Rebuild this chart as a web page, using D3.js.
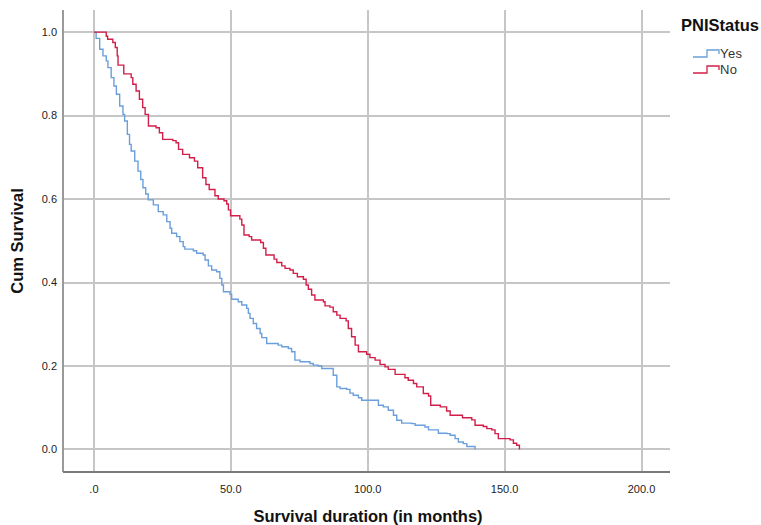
<!DOCTYPE html>
<html>
<head>
<meta charset="utf-8">
<title>Survival functions by PNIStatus</title>
<script src="https://cdn.jsdelivr.net/npm/d3@7"></script>
<style>
body { margin: 0; background: #fff; font-family: "Liberation Sans", Arial, sans-serif; }
.tick-label { font-size: 11px; fill: #222; }
.axis-title { font-size: 16.5px; font-weight: bold; fill: #111; }
.grid line { stroke: #c6c6c6; stroke-width: 1.3; shape-rendering: crispEdges; }
.km { fill: none; stroke-width: 1.4; }
</style>
</head>
<body>
<script>
// survival time (months) and cum. survival after each drop
var yesTime = [0, 0.8, 2.1, 3.3, 4.5, 5.1, 6.3, 7.3, 8.2, 9.4, 10.6, 11.2, 12.2, 13.0, 13.6, 14.9, 16.1, 17.1, 17.9, 18.9,
  19.8, 21.7, 23.5, 25.3, 26.6, 27.8, 28.4, 30.2, 31.4, 32.6, 33.2, 36.3, 37.5, 39.9, 40.6, 41.8, 43.0, 44.8, 46.0, 46.7,
  47.3, 49.7, 50.3, 52.7, 54.0, 55.8, 56.4, 57.0, 58.2, 59.4, 60.7, 61.3, 63.1, 67.3, 68.6, 71.0, 72.2, 73.4, 75.3, 78.9,
  80.1, 82.0, 83.2, 87.4, 88.7, 89.9, 92.3, 93.5, 94.7, 96.6, 97.8, 103.9, 105.7, 107.5, 109.4, 110.6, 112.4, 116.1, 117.3,
  120.9, 122.2, 125.8, 128.9, 130.1, 131.9, 133.1, 134.9, 136.2, 139.2];
var yesSurv = [1, 0.985, 0.959, 0.943, 0.931, 0.915, 0.891, 0.871, 0.851, 0.823, 0.803, 0.787, 0.755, 0.731, 0.715, 0.691, 0.667, 0.647, 0.627, 0.612,
  0.598, 0.586, 0.570, 0.562, 0.546, 0.530, 0.518, 0.510, 0.498, 0.486, 0.480, 0.476, 0.470, 0.466, 0.454, 0.440, 0.430, 0.426, 0.410, 0.394,
  0.378, 0.372, 0.360, 0.354, 0.346, 0.338, 0.326, 0.314, 0.302, 0.290, 0.278, 0.268, 0.254, 0.250, 0.246, 0.242, 0.234, 0.214, 0.210, 0.206,
  0.202, 0.200, 0.194, 0.178, 0.150, 0.146, 0.144, 0.135, 0.130, 0.124, 0.118, 0.106, 0.102, 0.094, 0.082, 0.070, 0.063, 0.062, 0.058,
  0.054, 0.047, 0.039, 0.038, 0.034, 0.026, 0.018, 0.014, 0.007, 0];

var noTime = [0, 4.5, 5.0, 6.9, 7.8, 8.5, 8.8, 10.9, 13.6, 14.2, 15.4, 16.6, 17.8, 18.7, 19.9, 22.7, 23.9, 25.1, 28.8, 30.0,
  30.9, 32.4, 34.9, 36.7, 37.9, 39.7, 40.9, 42.1, 44.2, 45.4, 47.5, 48.5, 49.1, 49.9, 53.3, 54.0, 54.8, 56.7, 57.6, 60.9,
  61.9, 62.8, 65.8, 66.8, 68.6, 69.8, 71.6, 72.8, 74.3, 76.5, 77.5, 78.3, 79.5, 80.7, 83.8, 84.4, 86.2, 87.4, 88.7, 89.9,
  92.1, 92.9, 94.1, 95.4, 96.6, 99.6, 100.8, 102.7, 104.5, 106.3, 107.5, 110.0, 113.6, 114.8, 116.7, 117.9, 120.3, 122.2, 123.0,
  126.5, 128.8, 130.1, 134.6, 138.0, 139.2, 142.2, 143.5, 145.3, 146.5, 147.7, 152.0, 153.2, 154.4, 155.4];
var noSurv = [1, 0.990, 0.983, 0.975, 0.963, 0.943, 0.921, 0.900, 0.891, 0.875, 0.859, 0.839, 0.819, 0.803, 0.775, 0.771, 0.759, 0.743, 0.740, 0.735,
  0.719, 0.707, 0.699, 0.691, 0.675, 0.651, 0.635, 0.623, 0.608, 0.600, 0.596, 0.588, 0.574, 0.560, 0.552, 0.538, 0.514, 0.510, 0.502, 0.496,
  0.482, 0.466, 0.456, 0.448, 0.440, 0.434, 0.430, 0.422, 0.414, 0.408, 0.394, 0.384, 0.370, 0.358, 0.354, 0.344, 0.341, 0.330, 0.322, 0.314,
  0.308, 0.290, 0.270, 0.250, 0.234, 0.228, 0.220, 0.214, 0.204, 0.198, 0.192, 0.180, 0.172, 0.166, 0.158, 0.150, 0.134, 0.128, 0.106,
  0.102, 0.092, 0.082, 0.076, 0.071, 0.058, 0.055, 0.050, 0.047, 0.038, 0.026, 0.023, 0.015, 0.010, 0];

var groups = ["Yes", "No"];
var groupColors = ["#6a9fdb", "#d21f4a"];
var xTicks = [0, 50, 100, 150, 200];
var xTickLabels = [".0", "50.0", "100.0", "150.0", "200.0"];
var yTicks = [0, 0.2, 0.4, 0.6, 0.8, 1.0];
var yTickLabels = ["0.0", "0.2", "0.4", "0.6", "0.8", "1.0"];

var margin = {top: 10, right: 91, bottom: 53, left: 63},
    width = 761 - margin.left - margin.right,
    height = 525 - margin.top - margin.bottom;

var svg = d3.select("body").append("svg")
    .attr("width", 761)
    .attr("height", 525);

var g = svg.append("g")
    .attr("transform", "translate(" + margin.left + "," + margin.top + ")");

var xScale = d3.scaleLinear().domain([-11.3, 210.4]).range([0, width]);
var yScale = d3.scaleLinear().domain([-0.054, 1.053]).range([height, 0]);
var color = d3.scaleOrdinal().domain(groups).range(groupColors);

// grid
var grid = g.append("g").attr("class", "grid");
grid.selectAll(".vg")
    .data(xTicks)
  .enter().append("line")
    .attr("x1", function(d) { return Math.round(xScale(d)); })
    .attr("x2", function(d) { return Math.round(xScale(d)); })
    .attr("y1", 0)
    .attr("y2", height);
grid.selectAll(".hg")
    .data(yTicks)
  .enter().append("line")
    .attr("x1", 0)
    .attr("x2", width)
    .attr("y1", function(d) { return Math.round(yScale(d)); })
    .attr("y2", function(d) { return Math.round(yScale(d)); });

// axis lines
g.append("line")
    .attr("x1", 0).attr("x2", 0)
    .attr("y1", 0).attr("y2", height)
    .style("stroke", "#9a9a9a").style("stroke-width", 2);
g.append("line")
    .attr("x1", 0).attr("x2", width)
    .attr("y1", height).attr("y2", height)
    .style("stroke", "#7a7a7a").style("stroke-width", 2);

// tick labels
g.selectAll(".xl")
    .data(xTicks)
  .enter().append("text")
    .attr("class", "tick-label")
    .attr("x", function(d) { return xScale(d); })
    .attr("y", height + 21)
    .style("text-anchor", "middle")
    .text(function(d, i) { return xTickLabels[i]; });
g.selectAll(".yl")
    .data(yTicks)
  .enter().append("text")
    .attr("class", "tick-label")
    .attr("x", -6)
    .attr("y", function(d) { return yScale(d); })
    .attr("dy", ".35em")
    .style("text-anchor", "end")
    .text(function(d, i) { return yTickLabels[i]; });

// axis titles
svg.append("text")
    .attr("class", "axis-title")
    .attr("x", 368)
    .attr("y", 522)
    .style("text-anchor", "middle")
    .text("Survival duration (in months)");
svg.append("text")
    .attr("class", "axis-title")
    .attr("transform", "translate(23,241) rotate(-90)")
    .style("text-anchor", "middle")
    .text("Cum Survival");

// KM curves
var line = d3.line()
    .x(function(d) { return xScale(d[0]); })
    .y(function(d) { return yScale(d[1]); })
    .curve(d3.curveStepAfter);

var series = [
  {name: "Yes", pts: d3.zip(yesTime, yesSurv)},
  {name: "No", pts: d3.zip(noTime, noSurv)}
];

g.selectAll(".km")
    .data(series)
  .enter().append("path")
    .attr("class", "km")
    .attr("d", function(d) { return line(d.pts); })
    .style("stroke", function(d) { return color(d.name); });

// legend
svg.append("text")
    .attr("x", 681)
    .attr("y", 31)
    .style("font-size", "16.5px")
    .style("font-weight", "bold")
    .style("fill", "#111")
    .text("PNIStatus");

var legend = svg.selectAll(".legend")
    .data(groups)
  .enter().append("g")
    .attr("class", "legend")
    .attr("transform", function(d, i) { return "translate(693," + (53 + i * 16) + ")"; });

legend.append("path")
    .attr("d", "M0,4H14V-3H26V1")
    .style("fill", "none")
    .style("stroke-width", 1.3)
    .style("stroke", color);

legend.append("text")
    .attr("x", 27)
    .attr("y", 0)
    .attr("dy", ".35em")
    .style("font-size", "13px")
    .style("letter-spacing", "0.4px")
    .style("fill", "#333")
    .text(function(d) { return d; });
</script>
</body>
</html>
